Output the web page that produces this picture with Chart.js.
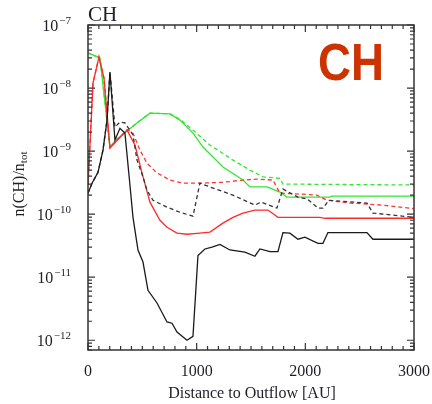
<!DOCTYPE html>
<html>
<head>
<meta charset="utf-8">
<script src="https://cdn.jsdelivr.net/npm/chart.js@4"></script>
<style>
  html, body { margin: 0; padding: 0; background: #fff; }
</style>
</head>
<body>
<canvas id="chart" width="432" height="404"></canvas>
<script>
// distance to outflow [AU] and abundance n(CH)/n_tot for each model curve
const blackSolidX = [0, 37, 92, 138, 175, 202, 248, 294, 340, 386, 414, 460, 506, 552, 635, 727, 773, 819, 911, 966, 1012, 1076, 1141, 1214, 1306, 1444, 1536, 1582, 1674, 1748, 1794, 1858, 1932, 1996, 2116, 2162, 2208, 2567, 2622, 3000];
const blackSolidY = [2.15e-10, 3.1e-10, 4.6e-10, 1.04e-9, 3.1e-9, 1.8e-8, 1.5e-9, 2.3e-9, 1.93e-9, 2.9e-10, 8.9e-11, 2.7e-11, 1.74e-11, 6.2e-12, 3.9e-12, 1.95e-12, 1.86e-12, 1.35e-12, 1.0e-12, 1.15e-12, 2.2e-11, 2.8e-11, 3.0e-11, 3.3e-11, 2.7e-11, 2.5e-11, 2.15e-11, 2.8e-11, 2.55e-11, 2.55e-11, 5.1e-11, 5.0e-11, 4.0e-11, 4.3e-11, 3.45e-11, 3.45e-11, 5.1e-11, 5.1e-11, 4.0e-11, 4.0e-11];

const blackDashX = [0, 37, 92, 138, 175, 202, 248, 294, 340, 414, 451, 506, 543, 598, 727, 846, 966, 1030, 1122, 1334, 1536, 1591, 1739, 1794, 1932, 2015, 2116, 2162, 2217, 2567, 2622, 3000];
const blackDashY = [2.15e-10, 3.1e-10, 4.6e-10, 1.04e-9, 3.1e-9, 1.8e-8, 2.4e-9, 2.9e-9, 2.8e-9, 1.8e-9, 7.2e-10, 3.9e-10, 2.4e-10, 1.66e-10, 1.29e-10, 1.07e-10, 9.3e-11, 3.1e-10, 2.7e-10, 2.0e-10, 1.39e-10, 1.55e-10, 1.25e-10, 2.5e-10, 1.86e-10, 1.75e-10, 1.25e-10, 1.25e-10, 1.66e-10, 1.5e-10, 1.04e-10, 8.9e-11];

const redSolidX = [0, 46, 101, 147, 202, 359, 432, 497, 570, 662, 727, 819, 911, 1030, 1122, 1242, 1334, 1426, 1536, 1656, 1748, 2134, 2180, 3000];
const redSolidY = [2.9e-10, 1.2e-8, 3.1e-8, 1.44e-8, 1.12e-9, 2.15e-9, 1.25e-9, 4.5e-10, 1.55e-10, 8.0e-11, 6.2e-11, 5.0e-11, 4.8e-11, 5.0e-11, 5.2e-11, 7.2e-11, 8.9e-11, 1.04e-10, 1.16e-10, 1.16e-10, 8.9e-11, 8.9e-11, 8.6e-11, 8.6e-11];

const redDashX = [0, 46, 101, 147, 202, 359, 414, 478, 543, 635, 754, 874, 1030, 1242, 1426, 1555, 1702, 1766, 1950, 2107, 2199, 2410, 2714, 3000];
const redDashY = [2.9e-10, 1.2e-8, 3.1e-8, 1.44e-8, 1.12e-9, 2.2e-9, 1.93e-9, 1.04e-9, 6.4e-10, 4.5e-10, 3.47e-10, 3.1e-10, 3.1e-10, 3.2e-10, 3.47e-10, 3.6e-10, 3.47e-10, 2.15e-10, 2.08e-10, 2.0e-10, 1.66e-10, 1.5e-10, 1.39e-10, 1.22e-10];

const greenSolidX = [0, 110, 202, 267, 451, 570, 754, 846, 966, 1058, 1242, 1426, 1490, 1647, 1766, 1831, 2226, 2245, 3000];
const greenSolidY = [3.6e-8, 3.0e-8, 1.16e-9, 1.55e-9, 2.8e-9, 4.0e-9, 3.9e-9, 3.1e-9, 1.93e-9, 1.16e-9, 5.6e-10, 3.47e-10, 2.7e-10, 2.7e-10, 2.24e-10, 1.86e-10, 1.86e-10, 1.93e-10, 1.93e-10];

const greenDashX = [0, 110, 202, 267, 451, 570, 754, 846, 966, 1122, 1334, 1490, 1610, 1766, 1794, 3000];
const greenDashY = [3.6e-8, 3.0e-8, 1.16e-9, 1.55e-9, 2.8e-9, 4.0e-9, 3.9e-9, 3.2e-9, 2.15e-9, 1.25e-9, 7.2e-10, 5.0e-10, 3.9e-10, 3.7e-10, 3.0e-10, 2.9e-10];

// axis ticks
const xMajorTicks = [0, 1000, 2000, 3000];
const yDecadeExponents = [-12, -11, -10, -9, -8, -7];

const serif = '"Liberation Serif", "DejaVu Serif", serif';
const inkColor = '#1e1e2a';

function pairs(xs, ys) {
  return xs.map((x, i) => ({ x: x, y: ys[i] }));
}

function curve(label, xs, ys, color, dashed) {
  return {
    label: label,
    data: pairs(xs, ys),
    borderColor: color,
    borderWidth: 1.3,
    borderDash: dashed ? [4, 3] : [],
    pointRadius: 0,
    fill: false,
    tension: 0
  };
}

// frame, inward tick marks and all text around the plot
const framePlugin = {
  id: 'frame',
  afterDraw(chart) {
    const ctx = chart.ctx;
    const area = chart.chartArea;
    const xs = chart.scales.x;
    const ys = chart.scales.y;
    ctx.save();
    ctx.strokeStyle = '#333';
    ctx.lineWidth = 1.5;
    ctx.strokeRect(area.left, area.top, area.right - area.left, area.bottom - area.top);

    ctx.lineWidth = 1.2;
    ctx.beginPath();
    // x ticks every 100 AU, longer at each 1000
    for (let v = 0; v <= 3000; v += 100) {
      const px = xs.getPixelForValue(v);
      const len = v % 1000 === 0 ? 7 : 4;
      ctx.moveTo(px, area.bottom); ctx.lineTo(px, area.bottom - len);
      ctx.moveTo(px, area.top); ctx.lineTo(px, area.top + len);
    }
    // log ticks on the y axis
    for (let e = -13; e <= -7; e++) {
      for (let m = 1; m <= 9; m++) {
        const v = m * Math.pow(10, e);
        if (v < ys.min * 0.999 || v > ys.max * 1.001) continue;
        const py = ys.getPixelForValue(v);
        const len = m === 1 ? 7 : 4;
        ctx.moveTo(area.left, py); ctx.lineTo(area.left + len, py);
        ctx.moveTo(area.right, py); ctx.lineTo(area.right - len, py);
      }
    }
    ctx.stroke();

    ctx.fillStyle = inkColor;
    // x tick labels
    ctx.font = '16px ' + serif;
    ctx.textAlign = 'center';
    ctx.textBaseline = 'alphabetic';
    xMajorTicks.forEach(v => {
      ctx.fillText(String(v), xs.getPixelForValue(v), area.bottom + 26);
    });

    // y tick labels 10^e
    yDecadeExponents.forEach(e => {
      const py = ys.getPixelForValue(Math.pow(10, e));
      ctx.font = '11px ' + serif;
      const sup = '\u2212' + Math.abs(e);
      const supW = ctx.measureText(sup).width;
      const right = area.left - 17;
      ctx.textAlign = 'right';
      ctx.fillText(sup, right, py - 1);
      ctx.font = '16px ' + serif;
      ctx.fillText('10', right - supW - 1, py + 6);
    });

    // x axis title
    ctx.font = '16px ' + serif;
    ctx.textAlign = 'center';
    ctx.fillText('Distance to Outflow [AU]', (area.left + area.right) / 2 + 1, 398);

    // y axis title, rotated, with subscript
    ctx.save();
    ctx.translate(24, 184);
    ctx.rotate(-Math.PI / 2);
    ctx.textAlign = 'left';
    ctx.font = '16px ' + serif;
    const main = 'n(CH)/n';
    ctx.font = '11px ' + serif;
    const subW = ctx.measureText('tot').width;
    ctx.font = '16px ' + serif;
    const mainW = ctx.measureText(main).width;
    const start = -(mainW + subW) / 2;
    ctx.fillText(main, start, 0);
    ctx.font = '11px ' + serif;
    ctx.fillText('tot', start + mainW, 3);
    ctx.restore();

    // panel title
    ctx.font = '21px ' + serif;
    ctx.textAlign = 'left';
    ctx.fillText('CH', area.left, 21);

    // species tag
    ctx.save();
    ctx.font = 'bold 52px "Liberation Sans", Arial, sans-serif';
    const tagW = ctx.measureText('CH').width;
    ctx.translate(318, 80);
    ctx.scale(66 / tagW, 1);
    ctx.fillStyle = '#cc3300';
    ctx.textAlign = 'left';
    ctx.fillText('CH', 0, 0);
    ctx.restore();

    ctx.restore();
  }
};

new Chart(document.getElementById('chart').getContext('2d'), {
  type: 'line',
  data: {
    datasets: [
      curve('black', blackSolidX, blackSolidY, '#1a1a1a', false),
      curve('black dashed', blackDashX, blackDashY, '#333333', true),
      curve('red', redSolidX, redSolidY, '#ff2a2a', false),
      curve('red dashed', redDashX, redDashY, '#ff3535', true),
      curve('green', greenSolidX, greenSolidY, '#33e633', false),
      curve('green dashed', greenDashX, greenDashY, '#33e633', true)
    ]
  },
  options: {
    responsive: false,
    animation: false,
    layout: { padding: { top: 25, right: 18, left: 0, bottom: 0 } },
    plugins: {
      legend: { display: false },
      tooltip: { enabled: false }
    },
    scales: {
      x: {
        type: 'linear',
        min: 0,
        max: 3000,
        grid: { display: false },
        border: { display: false },
        ticks: { display: false },
        afterFit: s => { s.height = 54; }
      },
      y: {
        type: 'logarithmic',
        min: 7e-13,
        max: 1e-7,
        grid: { display: false },
        border: { display: false },
        ticks: { display: false },
        afterFit: s => { s.width = 88; }
      }
    }
  },
  plugins: [framePlugin]
});
</script>
</body>
</html>
